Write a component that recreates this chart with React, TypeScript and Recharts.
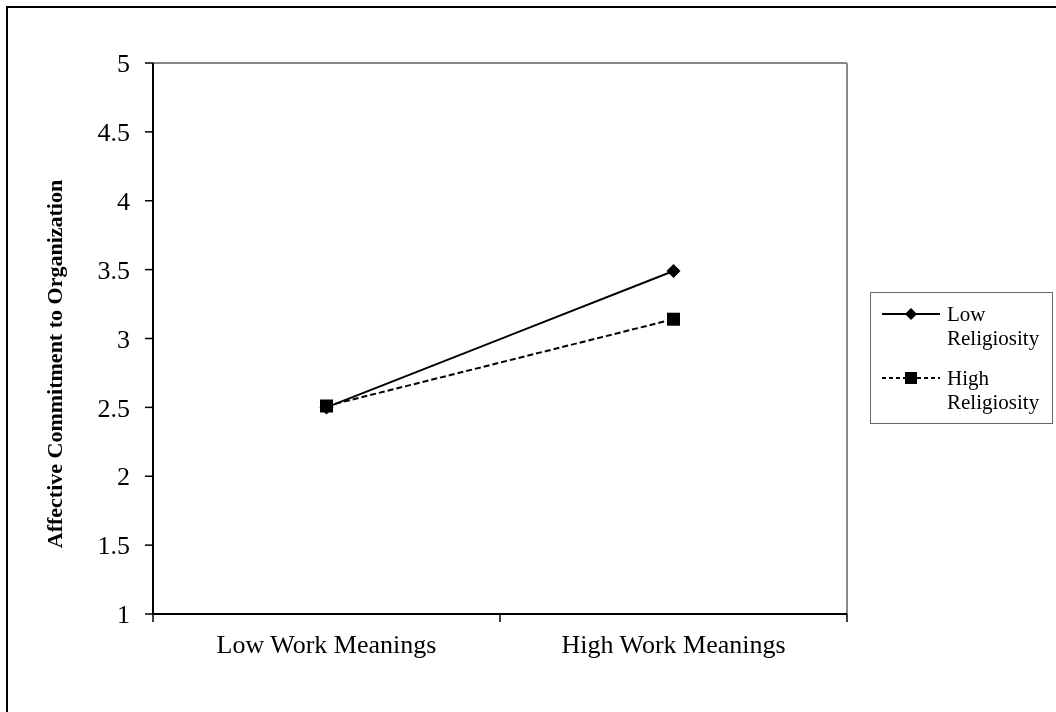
import { LineChart, Line, XAxis, YAxis, ReferenceLine } from "recharts";

const CATEGORIES = ["Low Work Meanings", "High Work Meanings"];
const LOW_RELIGIOSITY = [2.5, 3.49];
const HIGH_RELIGIOSITY = [2.51, 3.14];
const Y_TICKS = [1, 1.5, 2, 2.5, 3, 3.5, 4, 4.5, 5];
const X_TICKS = [0, 0.5, 1, 1.5, 2];

const SERIF = '"Liberation Serif", "Times New Roman", serif';

// category i sits in the middle of its band [i, i+1]
const data = CATEGORIES.map((name, i) => ({
  name,
  x: i + 0.5,
  low: LOW_RELIGIOSITY[i],
  high: HIGH_RELIGIOSITY[i],
}));

function Diamond({ cx, cy, r = 7 }: { cx: number; cy: number; r?: number }) {
  return (
    <polygon
      points={`${cx},${cy - r} ${cx + r},${cy} ${cx},${cy + r} ${cx - r},${cy}`}
      fill="#000"
    />
  );
}

function Square({ cx, cy, s = 13 }: { cx: number; cy: number; s?: number }) {
  return <rect x={cx - s / 2} y={cy - s / 2} width={s} height={s} fill="#000" />;
}

/** 整数处画分隔刻度，半数处写类别名 */
function XTick(props: any) {
  const { x, y, payload } = props;
  const v = payload.value as number;
  if (Number.isInteger(v)) {
    return <line x1={x} x2={x} y1={y} y2={y + 8} stroke="#000" strokeWidth={1.5} />;
  }
  return (
    <text x={x} y={y + 39} textAnchor="middle" fontSize={26} fontFamily={SERIF} fill="#000">
      {CATEGORIES[Math.floor(v)]}
    </text>
  );
}

function YLabel() {
  return (
    <text
      x={0}
      y={0}
      transform="translate(62, 364) rotate(-90)"
      textAnchor="middle"
      fontSize={22}
      fontWeight="bold"
      fontFamily={SERIF}
      fill="#000"
    >
      Affective Commitment to Organization
    </text>
  );
}

function LegendBox() {
  const row = (kind: "low" | "high", l1: string, l2: string, mt: number) => (
    <div style={{ display: "flex", marginTop: mt }}>
      <svg width={58} height={24} style={{ marginLeft: 11, flex: "none" }}>
        <line
          x1={0}
          x2={58}
          y1={12}
          y2={12}
          stroke="#000"
          strokeWidth={2}
          strokeDasharray={kind === "high" ? "4 3" : undefined}
        />
        {kind === "low" ? <Diamond cx={29} cy={12} r={6} /> : <Square cx={29} cy={12} s={12} />}
      </svg>
      <div style={{ marginLeft: 7, lineHeight: "24px" }}>
        <div>{l1}</div>
        <div>{l2}</div>
      </div>
    </div>
  );
  return (
    <div
      style={{
        position: "absolute",
        left: 870,
        top: 292,
        width: 183,
        height: 132,
        boxSizing: "border-box",
        border: "1.5px solid #666",
        background: "#fff",
        fontFamily: SERIF,
        fontSize: 21,
        color: "#000",
        paddingTop: 9,
      }}
    >
      {row("low", "Low", "Religiosity", 0)}
      {row("high", "High", "Religiosity", 16)}
    </div>
  );
}

export default function App() {
  return (
    <>
      <div
        style={{
          position: "fixed",
          left: 6,
          top: 6,
          width: 1200,
          height: 900,
          border: "2px solid #000",
        }}
      />
      <div style={{ position: "fixed", left: 0, top: 0, width: 1056, height: 712 }}>
        <LineChart
          width={1056}
          height={712}
          data={data}
          margin={{ top: 63, right: 209, bottom: 0, left: 0 }}
          style={{ fontFamily: SERIF }}
        >
          <XAxis
            dataKey="x"
            type="number"
            domain={[0, 2]}
            ticks={X_TICKS}
            interval={0}
            tick={<XTick />}
            tickLine={false}
            tickSize={0}
            tickMargin={0}
            axisLine={{ stroke: "#000", strokeWidth: 2 }}
            height={98}
          />
          <YAxis
            type="number"
            domain={[1, 5]}
            ticks={Y_TICKS}
            interval={0}
            width={153}
            tickSize={8}
            tickMargin={15}
            tick={{ fontSize: 26, fill: "#000", fontFamily: SERIF }}
            tickLine={{ stroke: "#000", strokeWidth: 1.5 }}
            axisLine={{ stroke: "#000", strokeWidth: 2 }}
            label={<YLabel />}
          />
          <ReferenceLine y={5} stroke="#888" strokeWidth={2} />
          <ReferenceLine x={2} stroke="#888" strokeWidth={2} />
          <Line
            dataKey="low"
            stroke="#000"
            strokeWidth={2}
            isAnimationActive={false}
            dot={(p: any) => <Diamond key={`l${p.index}`} cx={p.cx} cy={p.cy} />}
          />
          <Line
            dataKey="high"
            stroke="#000"
            strokeWidth={2}
            strokeDasharray="6 3"
            isAnimationActive={false}
            dot={(p: any) => <Square key={`h${p.index}`} cx={p.cx} cy={p.cy} />}
          />
        </LineChart>
        <LegendBox />
      </div>
    </>
  );
}
